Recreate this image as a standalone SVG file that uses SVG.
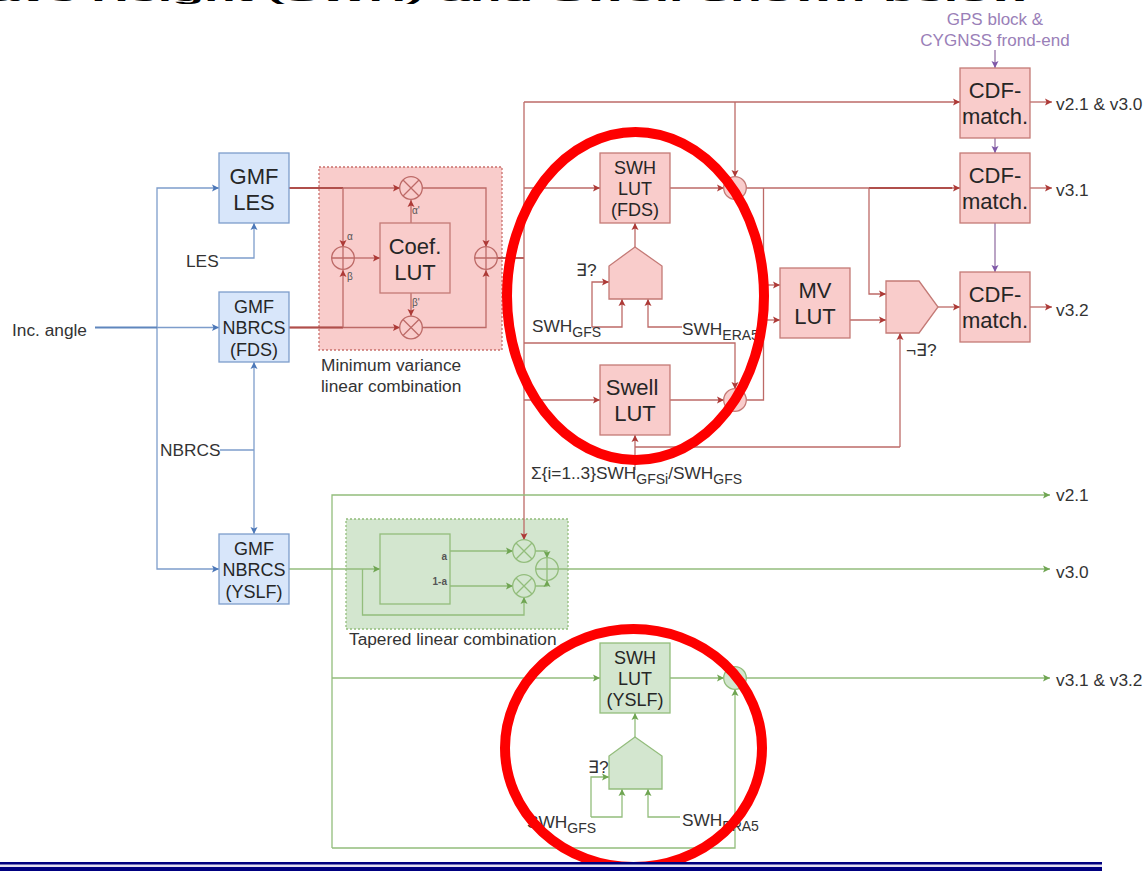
<svg xmlns="http://www.w3.org/2000/svg" width="1147" height="871" viewBox="0 0 1147 871">
<style>
text{font-family:"Liberation Sans",Arial,sans-serif;fill:#262626}
.c{text-anchor:middle}
.big{font-size:22px}
.mid{font-size:18px}
.lab{font-size:17.300px;fill:#333}
.tiny{font-size:10px;fill:#555}
.pur{font-size:17px;fill:#9a80b8;text-anchor:middle}
.title{font-size:52px;font-weight:bold;fill:#000}
path,line,circle,rect,polygon{stroke-width:1.3}
.r{fill:none;stroke:#bd6a67}
.g{fill:none;stroke:#93bd7c}
.b{fill:none;stroke:#7d9dcb}
.p{fill:none;stroke:#9673a6}
.d{stroke-width:1.8}
.dr{stroke:#b04f4b}
.db{stroke:#5f86bd}
.ra{marker-end:url(#mr)}
.ga{marker-end:url(#mg)}
.ba{marker-end:url(#mb)}
.pa{marker-end:url(#mp)}
.nb{fill:#d8e6fa;stroke:#7d9dcb}
.nr{fill:#f9cccb;stroke:#c47a76}
.ng{fill:#d3e6cf;stroke:#93bd7c}
.rr{fill:#f9cccb;stroke:#c9706c;stroke-dasharray:2 2}
.rg{fill:#d3e6cf;stroke:#93bd7c;stroke-dasharray:2 2}
.xr{fill:none;stroke:#bd6a67}
.xg{fill:none;stroke:#93bd7c}
.ann{fill:none;stroke:#fe0000;stroke-width:10}
.nv{fill:#00007f;stroke:none}
</style>
<defs>
<marker id="mr" markerUnits="userSpaceOnUse" markerWidth="8" markerHeight="8" refX="7" refY="4" orient="auto"><path d="M0 .5L7 4L0 7.5L1.5 4Z" style="fill:#ad3a37;stroke:none"/></marker>
<marker id="mg" markerUnits="userSpaceOnUse" markerWidth="8" markerHeight="8" refX="7" refY="4" orient="auto"><path d="M0 .5L7 4L0 7.5L1.5 4Z" style="fill:#6fa552;stroke:none"/></marker>
<marker id="mb" markerUnits="userSpaceOnUse" markerWidth="8" markerHeight="8" refX="7" refY="4" orient="auto"><path d="M0 .5L7 4L0 7.5L1.5 4Z" style="fill:#4d78b8;stroke:none"/></marker>
<marker id="mp" markerUnits="userSpaceOnUse" markerWidth="8" markerHeight="8" refX="7" refY="4" orient="auto"><path d="M0 .5L7 4L0 7.5L1.5 4Z" style="fill:#7f58a8;stroke:none"/></marker>
<g id="times"><circle r="11.3"/><path d="M-8 -8L8 8M-8 8L8 -8"/></g>
<g id="plus"><circle r="11.3"/><path d="M-11.3 0H11.3M0 -11.3V11.3"/></g>
</defs>

<text class="title" x="-57" y="0" transform="translate(0 1) scale(1 .3)">Wave Height (SWH)<tspan word-spacing="3"> and Swell shown below</tspan></text>

<g id="region-min-variance"><rect class="rr" x="319" y="167" width="183" height="183"/></g>
<g id="region-tapered"><rect class="rg" x="346" y="519" width="222" height="110"/></g>

<g id="connectors">
<g>
<path class="b ba" d="M157 327.5V188H219"/>
<path class="b ba" d="M157 327.5V569H219"/>
<path class="b ba" d="M157 327.5H219"/>
<path class="b db d" d="M95 327.5H157"/>
<path class="b ba" d="M220 258H254V223"/>
<path class="b ba" d="M254 450V362"/>
<path class="b ba" d="M254 450V534"/>
<path class="b" d="M220 450H254"/>
</g>
<g>
<path class="r ra" d="M289 188H400"/>
<path class="r dr d" d="M289 188H343"/>
<path class="r ra" d="M343 188V247"/>
<path class="r ra" d="M289 327.5H400"/>
<path class="r dr d" d="M289 327.5H343"/>
<path class="r ra" d="M343 327.5V270"/>
<path class="r ra" d="M354 258H380"/>
<path class="r ra" d="M411 223V200"/>
<path class="r ra" d="M411 293V316"/>
<path class="r ra" d="M422 188H486V247"/>
<path class="r ra" d="M422 327.5H486V270"/>
<path class="r dr d" d="M497 258H524"/>
<path class="r ra" d="M524 102V540"/>
<path class="r ra" d="M524 102H960"/>
<path class="r ra" d="M735 102V177"/>
<path class="r ra" d="M524 188H600"/>
<path class="r ra" d="M670 188H724"/>
<path class="r ra" d="M746 188H960"/>
<path class="r dr d" d="M869 188H952"/>
<path class="r ra" d="M635 247V223"/>
<path class="r ra" d="M592 327V282H609"/>
<path class="r ra" d="M592 327H622V299"/>
<path class="r ra" d="M682 327H648V299"/>
<path class="r ra" d="M524 343H735V389"/>
<path class="r ra" d="M524 400H600"/>
<path class="r ra" d="M670 400H724"/>
<path class="r" d="M746 400H763.500V188"/>
<path class="r ra" d="M763.500 285H780"/>
<path class="r ra" d="M763.500 320H780"/>
<path class="r ra" d="M850 320H886"/>
<path class="r ra" d="M869 188V294H886"/>
<path class="r ra" d="M938 307H960"/>
<path class="r ra" d="M900 447V333"/>
<path class="r" d="M900 447H635"/>
<path class="r ra" d="M635 470V435"/>
<path class="r ra" d="M1030 102H1052"/>
<path class="r ra" d="M1030 188H1052"/>
<path class="r ra" d="M1030 307H1052"/>
</g>
<g>
<path class="p pa" d="M995 50V68"/>
<path class="p pa" d="M995 138V153"/>
<path class="p pa" d="M995 223V272"/>
</g>
<g>
<path class="g ga" d="M289 569H380"/>
<path class="g ga" d="M362.500 569V615H524V597"/>
<path class="g ga" d="M450 551H513"/>
<path class="g ga" d="M450 586H513"/>
<path class="g ga" d="M535 551H547V558"/>
<path class="g ga" d="M535 586H547V580"/>
<path class="g ga" d="M558 569H1050"/>
<path class="g ga" d="M332 848V495H1050"/>
<path class="g ga" d="M332 678H600"/>
<path class="g ga" d="M670 678H724"/>
<path class="g ga" d="M746 678H1050"/>
<path class="g ga" d="M332 848H735V689"/>
<path class="g ga" d="M635 737V713"/>
<path class="g ga" d="M591 817V777H609"/>
<path class="g ga" d="M591 817H622V789"/>
<path class="g ga" d="M680 817H648V789"/>
</g>
</g>

<g id="gmf-les"><rect class="nb" x="219" y="153" width="70" height="70"/><text class="c big" x="254" y="184">GMF</text><text class="c big" x="254" y="210">LES</text></g>
<g id="gmf-nbrcs-fds"><rect class="nb" x="219" y="292" width="70" height="70"/><text class="c mid" x="254" y="313">GMF</text><text class="c mid" x="254" y="334">NBRCS</text><text class="c mid" x="254" y="356">(FDS)</text></g>
<g id="gmf-nbrcs-yslf"><rect class="nb" x="219" y="534" width="70" height="70"/><text class="c mid" x="254" y="555">GMF</text><text class="c mid" x="254" y="576">NBRCS</text><text class="c mid" x="254" y="598">(YSLF)</text></g>
<g id="coef-lut"><rect class="nr" x="380" y="223" width="70" height="70"/><text class="c big" x="415" y="254">Coef.</text><text class="c big" x="415" y="280">LUT</text></g>
<g id="mul-top"><use href="#times" class="xr" x="411" y="188"/></g>
<g id="mul-bottom"><use href="#times" class="xr" x="411" y="327.500"/></g>
<g id="add-left"><use href="#plus" class="xr" x="343" y="258"/></g>
<g id="add-right"><use href="#plus" class="xr" x="486" y="258"/></g>

<g id="swh-lut-fds"><rect class="nr" x="600" y="153" width="70" height="70"/><text class="c mid" x="635" y="174">SWH</text><text class="c mid" x="635" y="195">LUT</text><text class="c mid" x="635" y="216">(FDS)</text></g>
<g id="select-fds"><polygon class="nr" points="635,247 662,266 662,299 609,299 609,266"/></g>
<g id="swell-lut"><rect class="nr" x="600" y="365" width="70" height="70"/><text class="c big" x="632" y="395">Swell</text><text class="c big" x="635" y="421">LUT</text></g>
<g id="mv-lut"><rect class="nr" x="780" y="268" width="70" height="70"/><text class="c big" x="815" y="298">MV</text><text class="c big" x="815" y="324">LUT</text></g>
<g id="select-out"><polygon class="nr" points="886,281 919,281 938,307 919,333 886,333"/></g>
<g id="comb-top"><circle class="nr" cx="735" cy="188" r="11.300"/></g>
<g id="comb-swell"><circle class="nr" cx="735" cy="400" r="11.300"/></g>
<g id="cdf-1"><rect class="nr" x="960" y="68" width="70" height="70"/><text class="c big" x="995" y="98">CDF-</text><text class="c big" x="995" y="124">match.</text></g>
<g id="cdf-2"><rect class="nr" x="960" y="153" width="70" height="70"/><text class="c big" x="995" y="183">CDF-</text><text class="c big" x="995" y="209">match.</text></g>
<g id="cdf-3"><rect class="nr" x="960" y="272" width="70" height="70"/><text class="c big" x="995" y="302">CDF-</text><text class="c big" x="995" y="328">match.</text></g>

<g id="taper-box"><rect class="xg" x="380" y="534" width="70" height="70"/><text class="tiny" style="font-weight:bold" text-anchor="end" x="447" y="560">a</text><text class="tiny" style="font-weight:bold" text-anchor="end" x="447" y="585">1-a</text></g>
<g id="taper-mul-a"><use href="#times" class="xg" x="524" y="551"/></g>
<g id="taper-mul-b"><use href="#times" class="xg" x="524" y="586"/></g>
<g id="taper-add"><use href="#plus" class="xg" x="547" y="569"/></g>
<g id="swh-lut-yslf"><rect class="ng" x="600" y="643" width="70" height="70"/><text class="c mid" x="635" y="664">SWH</text><text class="c mid" x="635" y="685">LUT</text><text class="c mid" x="635" y="706">(YSLF)</text></g>
<g id="select-yslf"><polygon class="ng" points="635,737 662,756 662,789 609,789 609,756"/></g>
<g id="comb-yslf"><circle class="ng" cx="735" cy="678" r="11.300"/></g>

<g id="labels">
<text class="lab" x="12" y="336">Inc. angle</text>
<text class="lab" x="186" y="267">LES</text>
<text class="lab" x="160" y="456">NBRCS</text>
<text class="lab" x="321" y="371">Minimum variance</text>
<text class="lab" x="321" y="392">linear combination</text>
<text class="lab" x="349" y="645">Tapered linear combination</text>
<text class="tiny" x="347" y="240">α</text>
<text class="tiny" x="347" y="280">β</text>
<text class="tiny" x="412" y="214">α'</text>
<text class="tiny" x="412" y="306">β'</text>
<text class="pur" x="995" y="25">GPS block &amp;</text>
<text class="pur" x="995" y="46">CYGNSS frond-end</text>
<text class="lab" x="1056" y="110">v2.1 &amp; v3.0</text>
<text class="lab" x="1056" y="196">v3.1</text>
<text class="lab" x="1056" y="316">v3.2</text>
<text class="lab" x="1056" y="501">v2.1</text>
<text class="lab" x="1056" y="578">v3.0</text>
<text class="lab" x="1056" y="686">v3.1 &amp; v3.2</text>
<text class="lab" x="576" y="276">∃?</text>
<text class="lab" x="906" y="356">¬∃?</text>
<text class="lab" x="588" y="773">∃?</text>
<text class="lab" x="532" y="332">SWH<tspan font-size="14" dy="5">GFS</tspan></text>
<text class="lab" x="682" y="335">SWH<tspan font-size="14" dy="5">ERA5</tspan></text>
<text class="lab" x="531" y="479">Σ{i=1..3}SWH<tspan font-size="14" dy="5">GFSi</tspan><tspan dy="-5">/SWH</tspan><tspan font-size="14" dy="5">GFS</tspan></text>
<text class="lab" x="527" y="828">SWH<tspan font-size="14" dy="5">GFS</tspan></text>
<text class="lab" x="682" y="826">SWH<tspan font-size="14" dy="5">ERA5</tspan></text>
</g>

<g id="highlights">
<ellipse class="ann" cx="635.500" cy="296" rx="128.500" ry="164"/>
<ellipse class="ann" cx="633.500" cy="748" rx="128.500" ry="119"/>
</g>

<g id="rule">
<rect x="0" y="864" width="1102" height="3" style="fill:#e4e0f0;stroke:none"/>
<rect class="nv" x="0" y="862" width="1102" height="2.500"/>
<rect class="nv" x="0" y="867" width="1102" height="4"/>
</g>
</svg>
